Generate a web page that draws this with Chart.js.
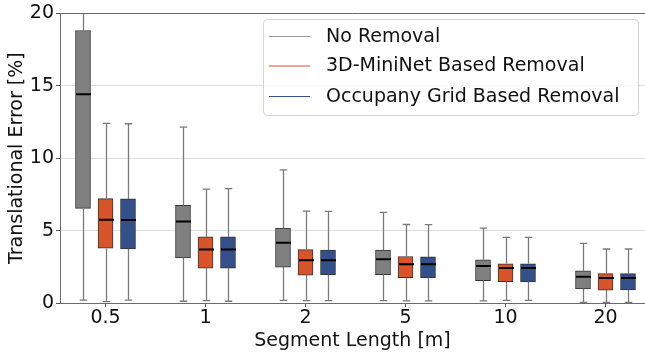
<!DOCTYPE html>
<html>
<head>
<meta charset="utf-8">
<script src="https://cdn.jsdelivr.net/npm/chart.js@4.4.0/dist/chart.umd.min.js"></script>
<style>
  html, body { margin: 0; padding: 0; background: #fff; }
  #wrap { width: 645px; height: 355px; }
</style>
</head>
<body>
<div id="wrap"><canvas id="chart"></canvas></div>
<script>
// segment lengths on the x axis
const categories = ['0.5', '1', '2', '5', '10', '20'];
const yTicks = [0, 5, 10, 15, 20];

// box plot values per series: whisker low, q1, median, q3, whisker high
const noRemovalLow  = [0.20, 0.12, 0.18, 0.16, 0.14, 0.05];
const noRemovalQ1   = [6.53, 3.12, 2.48, 1.96, 1.55, 0.98];
const noRemovalMed  = [14.42, 5.62, 4.16, 3.03, 2.55, 1.82];
const noRemovalQ3   = [18.82, 6.74, 5.17, 3.66, 2.98, 2.23];
const noRemovalHigh = [26.0, 12.15, 9.19, 6.26, 5.17, 4.12];

const miniNetLow  = [0.09, 0.16, 0.16, 0.14, 0.18, 0.05];
const miniNetQ1   = [3.78, 2.41, 1.93, 1.75, 1.48, 0.89];
const miniNetMed  = [5.75, 3.69, 2.96, 2.68, 2.41, 1.73];
const miniNetQ3   = [7.21, 4.57, 3.69, 3.21, 2.71, 2.03];
const miniNetHigh = [12.40, 7.87, 6.35, 5.42, 4.53, 3.73];

const occGridLow  = [0.20, 0.12, 0.16, 0.14, 0.18, 0.05];
const occGridQ1   = [3.73, 2.41, 1.95, 1.75, 1.46, 0.91];
const occGridMed  = [5.73, 3.69, 2.96, 2.68, 2.41, 1.73];
const occGridQ3   = [7.19, 4.57, 3.66, 3.19, 2.71, 2.03];
const occGridHigh = [12.38, 7.90, 6.33, 5.41, 4.53, 3.73];

const series = [
  { label: 'No Removal', color: '#808080', legendColor: '#999', low: noRemovalLow, q1: noRemovalQ1, med: noRemovalMed, q3: noRemovalQ3, high: noRemovalHigh },
  { label: '3D-MiniNet Based Removal', color: '#d9542b', legendColor: '#d9542b', low: miniNetLow, q1: miniNetQ1, med: miniNetMed, q3: miniNetQ3, high: miniNetHigh },
  { label: 'Occupany Grid Based Removal', color: '#34508a', legendColor: '#34508a', low: occGridLow, q1: occGridQ1, med: occGridMed, q3: occGridQ3, high: occGridHigh }
];
const offsets = [-0.225, 0, 0.225];

const FONT = 'DejaVu Sans';
const BOX_W = 15;

// whiskers, caps and medians, placed through the chart scales
const boxParts = {
  id: 'boxParts',
  afterDatasetsDraw(chart) {
    const { ctx, chartArea: a, scales: { x, y } } = chart;
    ctx.save();
    ctx.beginPath();
    ctx.rect(a.left, a.top, a.right - a.left, a.bottom - a.top);
    ctx.clip();
    series.forEach((s, si) => {
      categories.forEach((c, i) => {
        const cx = Math.round(x.getPixelForValue(i + offsets[si])) + 0.5;
        const yl = y.getPixelForValue(s.low[i]);
        const y1 = y.getPixelForValue(s.q1[i]);
        const y3 = y.getPixelForValue(s.q3[i]);
        const yh = y.getPixelForValue(s.high[i]);
        const ym = y.getPixelForValue(s.med[i]);
        ctx.strokeStyle = '#7a7a7a';
        ctx.lineWidth = 1.3;
        ctx.beginPath();
        ctx.moveTo(cx, yl); ctx.lineTo(cx, y1);
        ctx.moveTo(cx, y3); ctx.lineTo(cx, yh);
        ctx.moveTo(cx - BOX_W / 4, yl); ctx.lineTo(cx + BOX_W / 4, yl);
        ctx.moveTo(cx - BOX_W / 4, yh); ctx.lineTo(cx + BOX_W / 4, yh);
        ctx.stroke();
        ctx.strokeStyle = '#000';
        ctx.lineWidth = 2;
        ctx.beginPath();
        ctx.moveTo(cx - BOX_W / 2, ym); ctx.lineTo(cx + BOX_W / 2, ym);
        ctx.stroke();
      });
    });
    ctx.restore();
  },
  afterDraw(chart) {
    const { ctx, chartArea: a } = chart;
    ctx.save();
    // top spine (right side is cropped off in the figure)
    ctx.strokeStyle = '#6b6b6b';
    ctx.lineWidth = 1;
    ctx.beginPath();
    ctx.moveTo(Math.round(a.left), Math.round(a.top) + 0.5);
    ctx.lineTo(a.right, Math.round(a.top) + 0.5);
    ctx.stroke();

    // legend
    const lx = 263.5, ly = 19.5, lw = 375, lh = 96;
    ctx.fillStyle = 'rgba(255,255,255,0.85)';
    ctx.strokeStyle = '#d4d4d4';
    ctx.beginPath();
    ctx.roundRect(lx, ly, lw, lh, 4);
    ctx.fill();
    ctx.stroke();
    const rows = [36, 65.5, 96];
    ctx.font = '19px "' + FONT + '"';
    ctx.textBaseline = 'middle';
    ctx.textAlign = 'left';
    series.forEach((s, si) => {
      ctx.strokeStyle = s.legendColor;
      ctx.lineWidth = 1;
      ctx.beginPath();
      ctx.moveTo(269, rows[si] + 0.5);
      ctx.lineTo(310, rows[si] + 0.5);
      ctx.stroke();
      ctx.fillStyle = '#111';
      ctx.fillText(s.label, 326, rows[si] + 1);
    });
    ctx.restore();
  }
};

const datasets = series.map((s, si) => ({
  label: s.label,
  data: categories.map((c, i) => ({ x: i + offsets[si], y: [s.q1[i], s.q3[i]] })),
  backgroundColor: s.color,
  borderColor: '#333',
  borderWidth: 1,
  borderSkipped: false,
  grouped: false,
  barPercentage: 1,
  categoryPercentage: 1,
  maxBarThickness: BOX_W
}));

new Chart(document.getElementById('chart'), {
  type: 'bar',
  data: { datasets },
  options: {
    responsive: true,
    maintainAspectRatio: false,
    animation: false,
    layout: { padding: { top: 9, right: 0, left: 0, bottom: 0 } },
    plugins: {
      legend: { display: false },
      tooltip: { enabled: false }
    },
    scales: {
      x: {
        type: 'linear',
        offset: false,
        min: -0.455,
        max: 5.395,
        afterBuildTicks: scale => { scale.ticks = categories.map((c, i) => ({ value: i })); },
        afterFit: scale => { scale.height = 52; },
        ticks: {
          callback: v => categories[v],
          color: '#111',
          font: { family: FONT, size: 19 },
          padding: 0,
          maxRotation: 0,
          autoSkip: false
        },
        grid: { offset: false, drawOnChartArea: false, tickLength: 4, tickColor: '#555', color: '#555' },
        border: { color: '#6b6b6b' },
        title: {
          display: true,
          text: 'Segment Length [m]',
          color: '#111',
          font: { family: FONT, size: 19 },
          padding: { top: 0, bottom: 3 }
        }
      },
      y: {
        min: 0,
        max: 20,
        afterBuildTicks: scale => { scale.ticks = yTicks.map(v => ({ value: v })); },
        afterFit: scale => { scale.width = 60; },
        ticks: {
          color: '#111',
          font: { family: FONT, size: 19 },
          padding: 2
        },
        grid: { color: '#dedede', tickLength: 4, tickColor: '#555' },
        border: { color: '#6b6b6b' },
        title: {
          display: true,
          text: 'Translational Error [%]',
          color: '#111',
          font: { family: FONT, size: 19 },
          padding: { top: 6, bottom: 0 }
        }
      }
    }
  },
  plugins: [boxParts]
});
</script>
</body>
</html>
